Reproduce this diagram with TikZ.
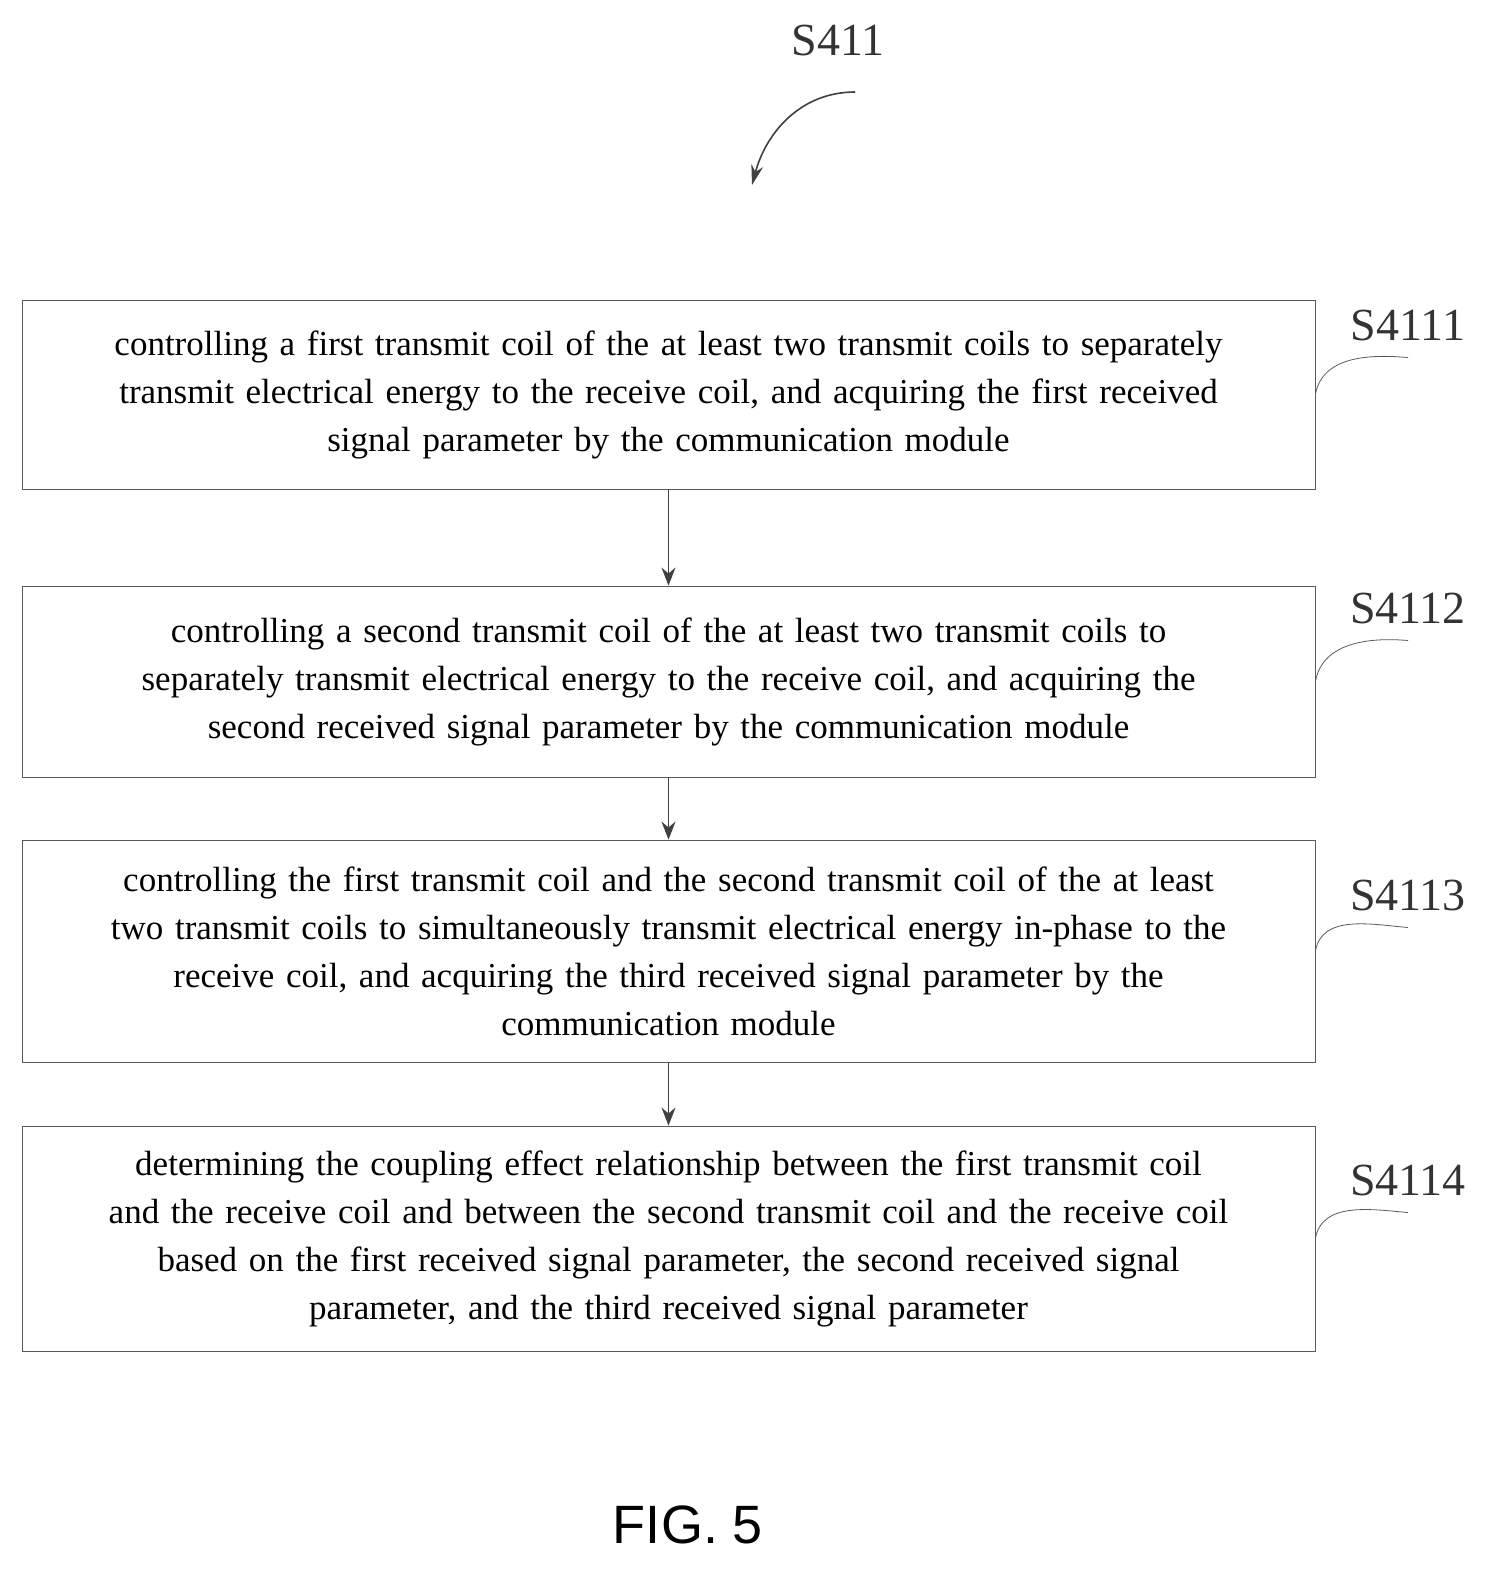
\documentclass[tikz,border=0pt]{standalone}
\usepackage{fontspec}
\setmainfont{Liberation Serif}
\newfontfamily\figfont{Liberation Sans}
\usetikzlibrary{arrows.meta}
\begin{document}
\begin{tikzpicture}[x=0.5pt,y=-0.5pt]
    \tikzstyle{stepbox}=[rectangle,draw,gray!70!black,text=black,minimum width=646.5pt,text width=640pt,align=center,font=\fontsize{17.5}{24}\selectfont,inner sep=0pt]
    \tikzstyle{tag}=[font=\fontsize{23}{26}\selectfont,text=black!80]
    \tikzstyle{flow}=[thick,black!75,-{Stealth[length=9pt,width=7pt]}]
    \tikzstyle{lead}=[gray!70!black]
    \useasboundingbox (0,0) rectangle (1504,1579);
    \node (top)    at (838,40)  [tag] {S411};
    \coordinate (topa) at (855,92);
    \coordinate (topb) at (752,185);
    \node (step1) at (668.5,394.5) [stepbox,minimum height=94.5pt] {controlling a first transmit coil of the at least two transmit coils to separately\\ transmit electrical energy to the receive coil, and acquiring the first received\\ signal parameter by the communication module};
    \node (step2) at (668.5,681.5) [stepbox,minimum height=95.5pt] {controlling a second transmit coil of the at least two transmit coils to\\ separately transmit electrical energy to the receive coil, and acquiring the\\ second received signal parameter by the communication module};
    \node (step3) at (668.5,951) [stepbox,minimum height=111pt] {controlling the first transmit coil and the second transmit coil of the at least\\ two transmit coils to simultaneously transmit electrical energy in-phase to the\\ receive coil, and acquiring the third received signal parameter by the\\ communication module};
    \node (step4) at (668.5,1238.5) [stepbox,minimum height=112.5pt] {determining the coupling effect relationship between the first transmit coil\\ and the receive coil and between the second transmit coil and the receive coil\\ based on the first received signal parameter, the second received signal\\ parameter, and the third received signal parameter};
    \node (tag1) at (1408,325)  [tag] {S4111};
    \node (tag2) at (1408,608)  [tag] {S4112};
    \node (tag3) at (1408,895)  [tag] {S4113};
    \node (tag4) at (1408,1180) [tag] {S4114};
    \draw [flow] (step1) -- (step2);
    \draw [flow] (step2) -- (step3);
    \draw [flow] (step3) -- (step4);
    \foreach \i in {1,...,4}
        \draw [lead] (step\i.east) to [out=80,in=175] ([yshift=-5pt]tag\i.south);
    \draw [black!75,thick,-{Stealth[length=10pt,width=6pt]}] (topa) to [out=180,in=75] (topb);
    \node (fig) at (688,1525) [font=\figfont\fontsize{27}{30}\selectfont] {FIG. 5};
\end{tikzpicture}
\end{document}
